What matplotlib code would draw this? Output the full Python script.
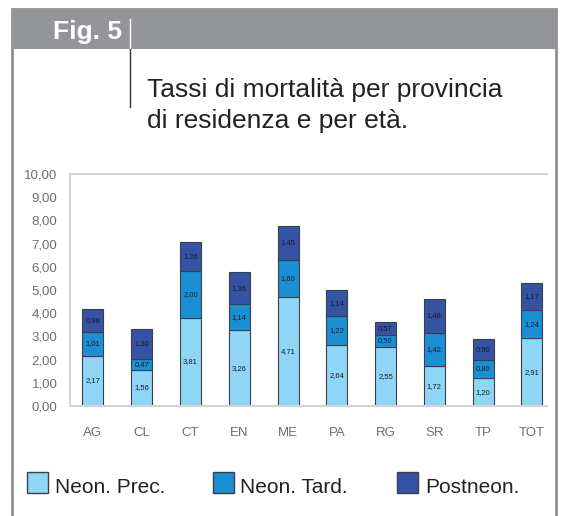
import matplotlib.pyplot as plt
from matplotlib.patches import Rectangle
from matplotlib.lines import Line2D
import numpy as np

plt.rcParams["font.family"] = ["Liberation Sans", "DejaVu Sans"]

# data (rates per province)
provinces = ["AG", "CL", "CT", "EN", "ME", "PA", "RG", "SR", "TP", "TOT"]
neon_prec = [2.17, 1.56, 3.81, 3.26, 4.71, 2.64, 2.55, 1.72, 1.20, 2.91]
neon_tard = [1.01, 0.47, 2.00, 1.14, 1.60, 1.22, 0.50, 1.42, 0.80, 1.24]
postneon = [0.98, 1.30, 1.26, 1.36, 1.45, 1.14, 0.57, 1.48, 0.90, 1.17]
series_names = ["Neon. Prec.", "Neon. Tard.", "Postneon."]
yticks = np.arange(0, 11, 1)

colors = ["#8fd6f6", "#1b8fd4", "#3653a3"]
edge = "#3a3f4a"

W, H = 562, 516
fig = plt.figure(figsize=(W / 100, H / 100), dpi=100)

def fx(px):
    return px / W

def fy(py):
    return 1 - py / H

# outer box and grey header band
fig.patches.append(Rectangle((fx(12), -0.01), fx(544), fy(9) + 0.01, transform=fig.transFigure,
                             facecolor="white", edgecolor="#8f9094", linewidth=2, zorder=-5))
fig.patches.append(Rectangle((fx(12), fy(49)), fx(544), fy(9) - fy(49), transform=fig.transFigure,
                             facecolor="#939598", edgecolor="none", zorder=-4))
fig.add_artist(Line2D([fx(130), fx(130)], [fy(19), fy(49)], transform=fig.transFigure,
                      color="white", linewidth=1))
fig.add_artist(Line2D([fx(130), fx(130)], [fy(49), fy(107)], transform=fig.transFigure,
                      color="#333333", linewidth=1))
fig.text(fx(122), fy(39), "Fig. 5", color="white", fontsize=19, fontweight="bold",
         ha="right", va="baseline")
fig.text(fx(147), fy(97), "Tassi di mortalità per provincia",
         color="#222222", fontsize=19, ha="left", va="baseline")
fig.text(fx(147), fy(128), "di residenza e per età.",
         color="#222222", fontsize=19, ha="left", va="baseline")

# chart
ax = fig.add_axes([fx(70), fy(406), fx(547) - fx(70), fy(174) - fy(406)])
x_pos = np.arange(len(provinces))
width = 0.43
bottom = np.zeros(len(provinces))
for vals, col, name in zip([neon_prec, neon_tard, postneon], colors, series_names):
    vals = np.array(vals)
    bars = ax.bar(x_pos, vals, width, bottom=bottom, color=col, edgecolor=edge,
                  linewidth=0.8, label=name)
    for b, v, y0 in zip(bars, vals, bottom):
        ax.text(b.get_x() + b.get_width() / 2, y0 + v / 2, f"{v:.2f}".replace(".", ","),
                ha="center", va="center", fontsize=5.5, color="#1a1a2a")
    bottom = bottom + vals

ax.set_xlim(-0.47, 9.31)
ax.set_ylim(0, 10)
ax.set_yticks(yticks)
ax.set_yticklabels([f"{v:.2f}".replace(".", ",") for v in yticks], color="#6d6e71", fontsize=9.5)
ax.set_xticks(x_pos)
ax.set_xticklabels(provinces, color="#6d6e71", fontsize=9.5)
ax.tick_params(axis="both", length=0)
ax.tick_params(axis="y", pad=9)
ax.tick_params(axis="x", pad=15)
for side in ["top", "left", "bottom"]:
    ax.spines[side].set_color("#d4d4d6")
    ax.spines[side].set_linewidth(1.5)
ax.spines["right"].set_visible(False)

# legend
leg = [(27, 55), (213, 240), (397, 425)]
for (sx, tx), col, name in zip(leg, colors, series_names):
    fig.patches.append(Rectangle((fx(sx), fy(493)), fx(21), fy(472) - fy(493),
                                 transform=fig.transFigure, facecolor=col,
                                 edgecolor=edge, linewidth=1))
    fig.text(fx(tx), fy(493), name, fontsize=15, color="#222222",
             ha="left", va="baseline")

fig.savefig("out.png", dpi=100)
